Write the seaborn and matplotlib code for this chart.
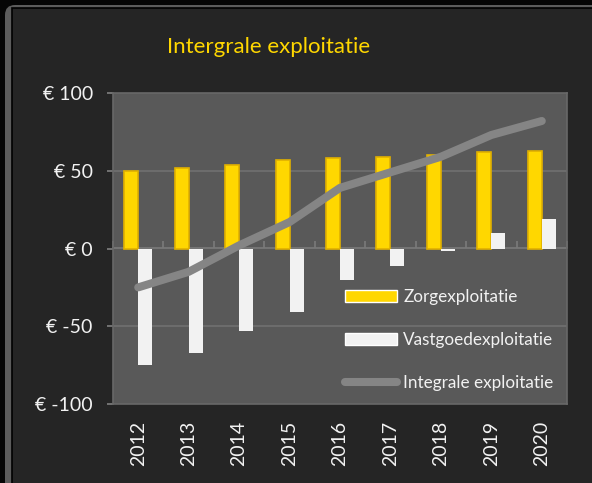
import numpy as np
import pandas as pd
import seaborn as sns
import matplotlib.pyplot as plt
from matplotlib.patches import FancyBboxPatch, Rectangle
from matplotlib.ticker import FuncFormatter

# data
years = ['2012', '2013', '2014', '2015', '2016', '2017', '2018', '2019', '2020']
zorg = [50, 52, 54, 57, 58, 59, 60, 62, 63]
vastgoed = [-75, -67, -53, -41, -20, -11, -1.5, 10, 19]
integraal = [-25, -15, 2, 17, 39, 49, 59, 73, 82]

df = pd.DataFrame({
    'jaar': years * 2,
    'waarde': zorg + vastgoed,
    'soort': ['Zorgexploitatie'] * len(years) + ['Vastgoedexploitatie'] * len(years),
})

sns.set_style('dark')
plt.rcParams['font.family'] = ['Lato', 'DejaVu Sans']

gold = '#FFD700'
panel = '#252525'
plotbg = '#595959'
gridc = '#707070'
txt = '#F2F2F2'

fig = plt.figure(figsize=(5.92, 4.83), dpi=100)
fig.patch.set_facecolor('#050505')

# frame around the chart
fig.patches.append(FancyBboxPatch((5, -30), 620, 508, boxstyle='round,pad=0,rounding_size=10',
                                  transform=None, facecolor='#5c5c5c', edgecolor='none', zorder=-2))
fig.patches.append(Rectangle((12, -30), 620, 505, transform=None,
                             facecolor=panel, edgecolor='#000000', linewidth=1.2, zorder=-1))

ax = fig.add_axes([113 / 592, 79 / 483, 454 / 592, 311 / 483])
ax.set_facecolor(plotbg)

sns.barplot(data=df, x='jaar', y='waarde', hue='soort', order=years,
            palette={'Zorgexploitatie': gold, 'Vastgoedexploitatie': '#F2F2F2'},
            saturation=1, width=0.555, ax=ax, zorder=3)
for p, c in zip(ax.patches, ['#E0B000'] * len(years) + ['none'] * len(years)):
    p.set_edgecolor(c)
    p.set_linewidth(1.2)

sns.lineplot(x=np.arange(len(years)), y=integraal, color='#858585', linewidth=5.8,
             label='Integrale exploitatie', ax=ax, zorder=4)
ax.lines[-1].set_solid_capstyle('round')

ax.set_ylim(-100, 100)
ax.set_xlim(-0.5, len(years) - 0.5)
ax.set_yticks([-100, -50, 0, 50, 100])
ax.yaxis.set_major_formatter(FuncFormatter(lambda v, pos: f'€ {int(v)}'))
ax.set_xlabel('')
ax.set_ylabel('')

ax.grid(False)
for v in [-50, 50]:
    ax.axhline(v, color=gridc, linewidth=1.2, zorder=1)

for s in ax.spines.values():
    s.set_visible(True)
    s.set_color('#686868')
    s.set_linewidth(1.2)

ax.tick_params(axis='y', colors='#808080', labelcolor=txt, labelsize=14, length=4.5, width=1.2,
               direction='out', pad=10, left=True)
ax.tick_params(axis='x', labelcolor=txt, labelsize=14, length=0, pad=12, rotation=90)

# category axis crossing at zero
zx = ax.secondary_xaxis(0.5)
zx.set_xticks(np.arange(len(years) + 1) - 0.5)
zx.set_xticklabels([])
for s in zx.spines.values():
    s.set_color('#7a7a7a')
    s.set_linewidth(1.2)
zx.tick_params(length=5, width=1.2, colors='#7a7a7a', direction='out')

handles, labels = ax.get_legend_handles_labels()
leg = ax.legend(handles, labels, loc='lower right', bbox_to_anchor=(0.985, 0.02),
                frameon=False, fontsize=12.3, labelcolor=txt, labelspacing=1.58,
                handlelength=3.05, handletextpad=0.35, borderaxespad=0)

fig.text(269 / 592, 1 - 47 / 483, 'Intergrale exploitatie', color=gold, fontsize=16,
         ha='center', va='center')

fig.savefig('out.png', dpi=100, facecolor=fig.get_facecolor())
